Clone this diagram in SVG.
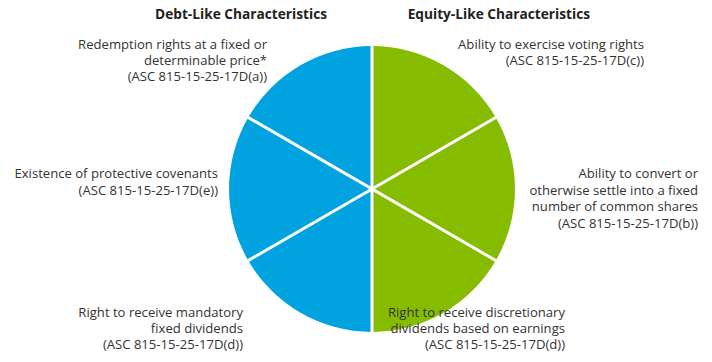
<svg xmlns="http://www.w3.org/2000/svg" width="712" height="362" viewBox="0 0 712 362">
<style>
text{font-family:"Open Sans","Noto Sans","Liberation Sans",sans-serif;fill:#333;}
.h{font-size:13.7px;font-weight:bold;fill:#222;text-anchor:end;}
.t{font-size:13.1px;text-anchor:end;}
.blue{fill:#00A2DF;}
.green{fill:#85BC00;}
.sep{stroke:#fff;stroke-width:3;fill:none;}
</style>
<rect width="712" height="362" fill="#fff"/>
<g id="headings">
<text class="h" x="327" y="18.5">Debt-Like Characteristics</text>
<text class="h" x="590" y="18.5">Equity-Like Characteristics</text>
</g>
<g id="wedge-redemption">
<path class="blue" d="M372,189 L372,46 A143,143 0 0 0 248.2,117.5 Z"/>
<text class="t" y="49"><tspan x="267">Redemption rights at a fixed or</tspan><tspan x="267" dy="16">determinable price*</tspan><tspan x="267" dy="16">(ASC 815-15-25-17D(a))</tspan></text>
</g>
<g id="wedge-covenants">
<path class="blue" d="M372,189 L248.2,117.5 A143,143 0 0 0 248.2,260.5 Z"/>
<text class="t" y="178"><tspan x="218">Existence of protective covenants</tspan><tspan x="218" dy="17">(ASC 815-15-25-17D(e))</tspan></text>
</g>
<g id="wedge-mandatory">
<path class="blue" d="M372,189 L248.2,260.5 A143,143 0 0 0 372,332 Z"/>
<text class="t" y="317"><tspan x="243">Right to receive mandatory</tspan><tspan x="243" dy="16">fixed dividends</tspan><tspan x="243" dy="16">(ASC 815-15-25-17D(d))</tspan></text>
</g>
<g id="wedge-voting">
<path class="green" d="M372,189 L372,46 A143,143 0 0 1 495.8,117.5 Z"/>
<text class="t" y="49"><tspan x="644">Ability to exercise voting rights</tspan><tspan x="644" dy="16">(ASC 815-15-25-17D(c))</tspan></text>
</g>
<g id="wedge-convert">
<path class="green" d="M372,189 L495.8,117.5 A143,143 0 0 1 495.8,260.5 Z"/>
<text class="t" y="178"><tspan x="698">Ability to convert or</tspan><tspan x="698" dy="16.7">otherwise settle into a fixed</tspan><tspan x="698" dy="16.7">number of common shares</tspan><tspan x="698" dy="16.7">(ASC 815-15-25-17D(b))</tspan></text>
</g>
<g id="wedge-discretionary">
<path class="green" d="M372,189 L495.8,260.5 A143,143 0 0 1 372,332 Z"/>
<text class="t" y="317"><tspan x="565">Right to receive discretionary</tspan><tspan x="565" dy="16">dividends based on earnings</tspan><tspan x="565" dy="16">(ASC 815-15-25-17D(d))</tspan></text>
</g>
<g id="connectors">
<line class="sep" x1="372" y1="44" x2="372" y2="334"/>
<line class="sep" x1="246.5" y1="116.5" x2="497.5" y2="261.5"/>
<line class="sep" x1="246.5" y1="261.5" x2="497.5" y2="116.5"/>
</g>
</svg>
